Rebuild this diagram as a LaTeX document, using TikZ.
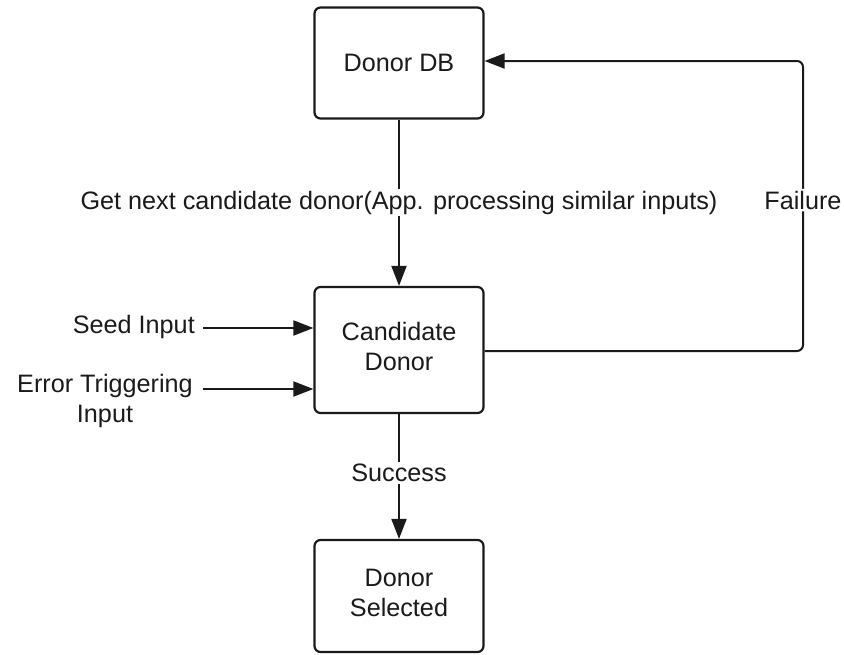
\documentclass[tikz,border=0pt]{standalone}
\usepackage{fontspec}
\setmainfont{Liberation Sans}
\usetikzlibrary{arrows.meta}
\definecolor{ink}{HTML}{1A1A1A}
\begin{document}
\begin{tikzpicture}[x=1pt,y=-1pt,
  box/.style={draw=ink,line width=2.2pt,rounded corners=6pt,fill=white,minimum width=169pt,align=center,inner sep=0pt,text=ink},
  lbl/.style={fill=white,text=ink,inner sep=2pt,align=center},
  txt/.style={text=ink,inner sep=0pt,align=center},
  conn/.style={draw=ink,line width=2pt,-{Triangle[length=20pt,width=15pt]}},
  every node/.append style={font=\fontsize{25.2}{30}\selectfont}]
\useasboundingbox (0,0) rectangle (844,654);
\node[box,minimum height=111pt] (db) at (399,63) {Donor DB};
\node[box,minimum height=126pt,text depth=7pt] (cd) at (399,350) {Candidate\\Donor};
\node[box,minimum height=112pt,text depth=6pt] (ds) at (399,596) {Donor\\Selected};
\node[txt,anchor=east] (seed) at (195,327) {Seed Input};
\node[txt] (err) at (105,401) {Error Triggering\\Input};
\coordinate (seedS) at (203,328);
\coordinate (errS) at (203,389);
\coordinate (fr) at (803,351);
\coordinate (ft) at (803,61);
\draw[conn] (seedS) -- (seedS -| cd.west);
\draw[conn] (errS) -- (errS -| cd.west);
\draw[conn] (db.south) -- node[lbl,pos=0.5] {Get next candidate donor(App. processing similar inputs)} (cd.north);
\draw[conn] (cd.south) -- node[lbl,pos=0.47] {Success} (ds.north);
\draw[conn,rounded corners=6pt] (cd.east |- fr) -- (fr) -- node[lbl,pos=0.52] {Failure} (ft) -- (db.east |- ft);
\end{tikzpicture}
\end{document}
